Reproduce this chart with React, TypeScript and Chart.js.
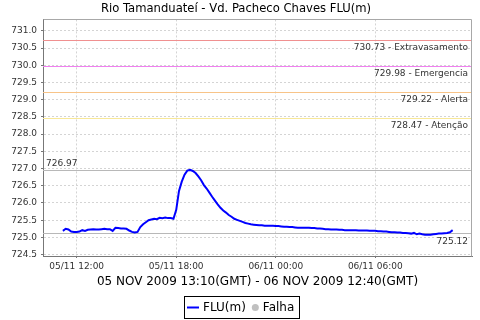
import React, { useEffect, useRef } from 'react';
import { Chart, registerables } from 'chart.js';

Chart.register(...registerables);

const TITLE = 'Rio Tamanduateí - Vd. Pacheco Chaves FLU(m)';
const SUBTITLE = '05 NOV 2009 13:10(GMT) - 06 NOV 2009 12:40(GMT)';
const SERIES_LABEL = 'FLU(m)';
const FAIL_LABEL = 'Falha';

// minutes since 05/11 00:00 (local time), one reading every 10 minutes
const START_MIN = 670;
const STEP_MIN = 10;

const levelValues = [
  725.19, 725.25, 725.23, 725.17, 725.16, 725.16, 725.17, 725.21, 725.19, 725.22,
  725.23, 725.24, 725.23, 725.23, 725.24, 725.25, 725.24, 725.24, 725.19, 725.28,
  725.27, 725.26, 725.26, 725.25, 725.20, 725.16, 725.14, 725.16, 725.30, 725.38,
  725.44, 725.50, 725.52, 725.54, 725.53, 725.57, 725.56, 725.58, 725.56, 725.56,
  725.54, 725.80, 726.35, 726.62, 726.82, 726.94, 726.96, 726.93, 726.87, 726.77,
  726.66, 726.52, 726.42, 726.30, 726.18, 726.07, 725.96, 725.86, 725.78, 725.72,
  725.65, 725.60, 725.54, 725.51, 725.48, 725.45, 725.42, 725.40, 725.38, 725.37,
  725.36, 725.35, 725.35, 725.34, 725.34, 725.34, 725.34, 725.33, 725.33, 725.32,
  725.31, 725.31, 725.30, 725.30, 725.29, 725.28, 725.28, 725.28, 725.28, 725.28,
  725.27, 725.27, 725.26, 725.26, 725.25, 725.24, 725.24, 725.23, 725.23, 725.23,
  725.22, 725.22, 725.21, 725.21, 725.21, 725.21, 725.21, 725.20, 725.20, 725.20,
  725.20, 725.19, 725.19, 725.19, 725.18, 725.18, 725.17, 725.17, 725.16, 725.15,
  725.15, 725.14, 725.14, 725.13, 725.13, 725.12, 725.11, 725.13, 725.09, 725.11,
  725.09, 725.08, 725.08, 725.08, 725.09, 725.10, 725.11, 725.11, 725.12, 725.13,
  725.15, 725.21,
];

const xTickValues = [720, 1080, 1440, 1800];
const xTickLabels = ['05/11 12:00', '05/11 18:00', '06/11 00:00', '06/11 06:00'];
const X_MIN = 598;
const X_MAX = 2150;

const yTickValues = [724.5, 725.0, 725.5, 726.0, 726.5, 727.0, 727.5, 728.0, 728.5, 729.0, 729.5, 730.0, 730.5, 731.0];
const Y_MIN = 724.46;
const Y_MAX = 731.33;

const thresholdValues = [730.73, 729.98, 729.22, 728.47];
const thresholdNames = ['Extravasamento', 'Emergencia', 'Alerta', 'Atenção'];
const thresholdColors = ['#f09090', '#f080f0', '#f8c488', '#f8e898'];

const MAX_VALUE = 726.97;
const MIN_VALUE = 725.12;

const FONT = 'DejaVu Sans';

const refLinesPlugin = {
  id: 'refLines',
  beforeDatasetsDraw(chart: any) {
    const { ctx, chartArea, scales } = chart;
    const ys = scales.y;
    ctx.save();
    ctx.font = `9px "${FONT}"`;
    ctx.fillStyle = '#333';
    thresholdValues.forEach((v, i) => {
      const y = Math.round(ys.getPixelForValue(v)) + 0.5;
      ctx.strokeStyle = thresholdColors[i];
      ctx.lineWidth = 1.2;
      ctx.beginPath();
      ctx.moveTo(chartArea.left, y);
      ctx.lineTo(chartArea.right, y);
      ctx.stroke();
      ctx.textAlign = 'right';
      ctx.textBaseline = 'top';
      ctx.fillText(`${v.toFixed(2)} - ${thresholdNames[i]}`, chartArea.right - 4, y + 3);
    });
    // max / min lines
    const yMax = Math.round(ys.getPixelForValue(MAX_VALUE)) + 0.5;
    const yMin = Math.round(ys.getPixelForValue(MIN_VALUE)) + 0.5;
    ctx.strokeStyle = '#b8b8b8';
    ctx.lineWidth = 1.2;
    ctx.beginPath();
    ctx.moveTo(chartArea.left, yMax);
    ctx.lineTo(chartArea.right, yMax);
    ctx.moveTo(chartArea.left, yMin);
    ctx.lineTo(chartArea.right, yMin);
    ctx.stroke();
    ctx.textAlign = 'left';
    ctx.textBaseline = 'bottom';
    ctx.fillText(MAX_VALUE.toFixed(2), chartArea.left + 3, yMax - 2);
    ctx.textAlign = 'right';
    ctx.textBaseline = 'top';
    ctx.fillText(MIN_VALUE.toFixed(2), chartArea.right - 4, yMin + 4);
    ctx.restore();
  },
  afterDraw(chart: any) {
    const { ctx, chartArea } = chart;
    ctx.save();
    // plot outline (top / right)
    ctx.strokeStyle = '#a8a8a8';
    ctx.lineWidth = 1;
    const l = Math.round(chartArea.left) + 0.5;
    const t = Math.round(chartArea.top) + 0.5;
    const r = Math.round(chartArea.right) - 0.5;
    const b = Math.round(chartArea.bottom) + 0.5;
    ctx.beginPath();
    ctx.moveTo(l, t);
    ctx.lineTo(r, t);
    ctx.lineTo(r, b);
    ctx.stroke();
    // legend
    ctx.font = `12px "${FONT}"`;
    const w1 = ctx.measureText(SERIES_LABEL).width;
    const w2 = ctx.measureText(FAIL_LABEL).width;
    const lineLen = 12, gap = 4, itemGap = 6, dotD = 7, padL = 3, padR = 5;
    const total = padL + lineLen + gap + w1 + itemGap + dotD + gap + w2 + padR;
    const left = Math.round(242 - total / 2);
    const top = 296, h = 22;
    const cy = top + h / 2 + 0.5;
    ctx.strokeStyle = '#000';
    ctx.lineWidth = 1;
    ctx.strokeRect(left + 0.5, top + 0.5, Math.round(total), h);
    let x = left + padL;
    ctx.strokeStyle = '#0000ff';
    ctx.lineWidth = 2;
    ctx.beginPath();
    ctx.moveTo(x, cy);
    ctx.lineTo(x + lineLen, cy);
    ctx.stroke();
    x += lineLen + gap;
    ctx.fillStyle = '#000';
    ctx.textAlign = 'left';
    ctx.textBaseline = 'middle';
    ctx.fillText(SERIES_LABEL, x, cy);
    x += w1 + itemGap;
    ctx.fillStyle = '#c0c0c0';
    ctx.beginPath();
    ctx.arc(x + dotD / 2, cy, dotD / 2, 0, Math.PI * 2);
    ctx.fill();
    x += dotD + gap;
    ctx.fillStyle = '#000';
    ctx.fillText(FAIL_LABEL, x, cy);
    ctx.restore();
  },
};

export default function App() {
  const canvasRef = useRef<HTMLCanvasElement | null>(null);

  useEffect(() => {
    document.body.style.margin = '0';
    const canvas = canvasRef.current;
    if (!canvas) return;
    Chart.defaults.font.family = FONT;
    const data = levelValues.map((v, i) => ({ x: START_MIN + i * STEP_MIN, y: v }));
    const chart = new Chart(canvas, {
      type: 'line',
      data: {
        datasets: [
          {
            label: SERIES_LABEL,
            data,
            borderColor: '#0000ff',
            borderWidth: 2,
            pointRadius: 0,
            tension: 0,
            fill: false,
          },
        ],
      },
      options: {
        responsive: false,
        animation: false,
        layout: { padding: { left: 0, right: 8, top: 0, bottom: 30 } },
        plugins: {
          legend: { display: false },
          tooltip: { enabled: false },
          title: {
            display: true,
            text: TITLE,
            color: '#000',
            font: { size: 11.6, weight: 'normal', family: FONT },
            padding: { top: 2, bottom: 3.5 },
          },
        },
        scales: {
          x: {
            type: 'linear',
            min: X_MIN,
            max: X_MAX,
            afterBuildTicks: (scale: any) => {
              scale.ticks = xTickValues.map((v) => ({ value: v }));
            },
            afterFit: (scale: any) => {
              scale.height = 34;
            },
            ticks: {
              callback: (_v: any, i: number) => xTickLabels[i],
              font: { size: 9, family: FONT },
              color: '#333',
              padding: 3,
              maxRotation: 0,
            },
            grid: { color: '#d4d4d4', tickLength: 2, tickColor: '#777' },
            border: { color: '#777', dash: [2, 2] },
            title: {
              display: true,
              text: SUBTITLE,
              color: '#000',
              font: { size: 12, family: FONT },
              padding: { top: 0, bottom: 1 },
            },
          },
          y: {
            type: 'linear',
            min: Y_MIN,
            max: Y_MAX,
            afterBuildTicks: (scale: any) => {
              scale.ticks = yTickValues.map((v) => ({ value: v }));
            },
            afterFit: (scale: any) => {
              scale.width = 43;
            },
            ticks: {
              callback: (v: any) => Number(v).toFixed(1),
              font: { size: 9, family: FONT },
              color: '#333',
              padding: 4,
            },
            grid: { color: '#d4d4d4', tickLength: 2, tickColor: '#777' },
            border: { color: '#777', dash: [2, 2] },
          },
        },
      },
      plugins: [refLinesPlugin],
    });
    return () => chart.destroy();
  }, []);

  return (
    <div style={{ width: 480, height: 320, background: '#fff' }}>
      <canvas ref={canvasRef} width={480} height={320} />
    </div>
  );
}
